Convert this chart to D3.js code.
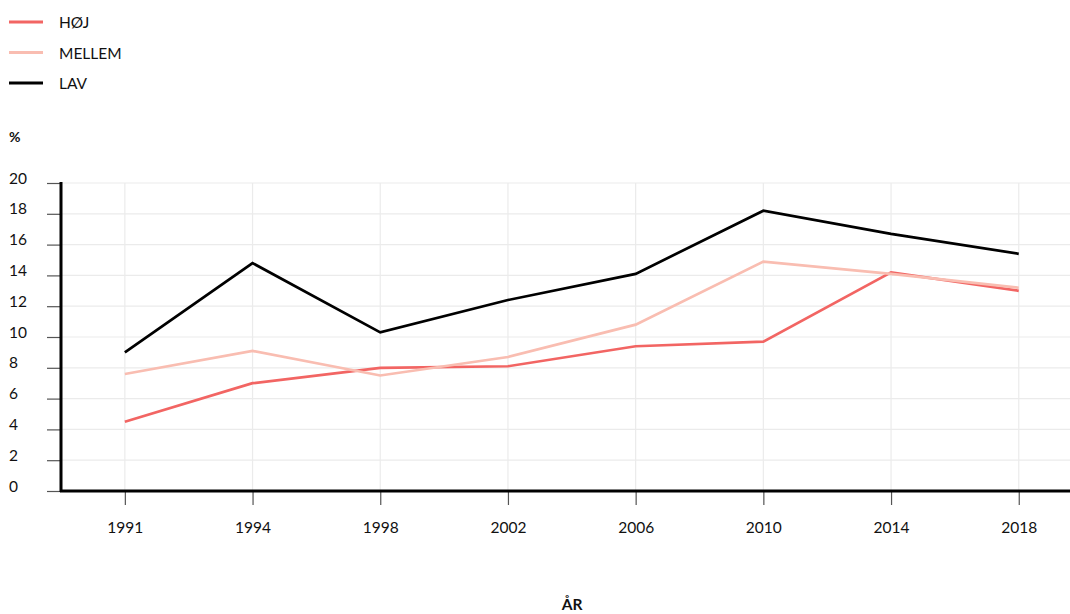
<!DOCTYPE html>
<html><head><meta charset="utf-8">
<script src="https://cdn.jsdelivr.net/npm/d3@7"></script>
<style>
body{margin:0;background:#fff;}
text{font-family:Lato,"Open Sans",sans-serif;fill:#111;}
</style></head>
<body><svg id="c" width="1070" height="614"></svg>
<script>
const years = ["1991","1994","1998","2002","2006","2010","2014","2018"];
const hoj    = [4.5, 7.0, 8.0, 8.1, 9.4, 9.7, 14.2, 13.0];
const mellem = [7.6, 9.1, 7.5, 8.7, 10.8, 14.9, 14.1, 13.2];
const lav    = [9.0, 14.8, 10.3, 12.4, 14.1, 18.2, 16.7, 15.4];
const seriesNames = ["HØJ","MELLEM","LAV"];
const seriesColors = ["#f26563","#f9bdb1","#000000"];
const yTicks = [0,2,4,6,8,10,12,14,16,18,20];

const series = [hoj, mellem, lav];
const svg = d3.select("#c");
const x = d3.scalePoint().domain(years).range([61, 1082.6]).padding(0.5);
const y = d3.scaleLinear().domain([0,20]).range([491,183]);

// horizontal grid
svg.append("g").selectAll("line").data(yTicks).join("line")
  .attr("x1",61).attr("x2",1070).attr("y1",d=>y(d)).attr("y2",d=>y(d))
  .attr("stroke","#ebebeb").attr("stroke-width",1.2);
// vertical grid
svg.append("g").selectAll("line").data(years).join("line")
  .attr("x1",d=>x(d)).attr("x2",d=>x(d)).attr("y1",183).attr("y2",491)
  .attr("stroke","#ebebeb").attr("stroke-width",1.2);

// y axis
const ya = svg.append("g").attr("transform","translate(61,0)")
  .call(d3.axisLeft(y).tickValues(yTicks).tickSize(14).tickPadding(0));
ya.select(".domain").remove();
ya.selectAll(".tick line").attr("stroke","#555").attr("stroke-width",1.2);
ya.selectAll(".tick text").attr("x",-52).attr("text-anchor","start")
  .attr("dy","0em").style("font-size","15.5px").attr("fill","#111");
svg.append("line").attr("x1",61).attr("x2",61).attr("y1",182).attr("y2",492)
  .attr("stroke","#000").attr("stroke-width",3);

// x axis
const xa = svg.append("g").attr("transform","translate(0,491)")
  .call(d3.axisBottom(x).tickSize(14).tickPadding(17));
xa.select(".domain").remove();
xa.selectAll(".tick line").attr("stroke","#555").attr("stroke-width",1.2);
xa.selectAll(".tick text").style("font-size","15.5px").attr("fill","#111");
svg.append("line").attr("x1",60).attr("x2",1070).attr("y1",491).attr("y2",491)
  .attr("stroke","#000").attr("stroke-width",3);

// lines
const line = d3.line().x((d,i)=>x(years[i])).y(d=>y(d));
series.forEach((s,i)=>{
  svg.append("path").datum(s).attr("d",line).attr("fill","none")
    .attr("stroke",seriesColors[i]).attr("stroke-width",2.7)
    .attr("stroke-linejoin","miter");
});

// legend
seriesNames.forEach((n,i)=>{
  const yy = 22 + i*30.5;
  svg.append("line").attr("x1",9).attr("x2",43).attr("y1",yy).attr("y2",yy)
    .attr("stroke",seriesColors[i]).attr("stroke-width",3);
  svg.append("text").attr("x",59).attr("y",yy+6).text(n).style("font-size","15.5px");
});

svg.append("text").attr("x",9).attr("y",142).text("%")
  .style("font-size","14px").style("font-weight","bold");
svg.append("text").attr("x",572).attr("y",610).attr("text-anchor","middle").text("ÅR")
  .style("font-size","15.5px").style("font-weight","bold");
</script></body></html>
